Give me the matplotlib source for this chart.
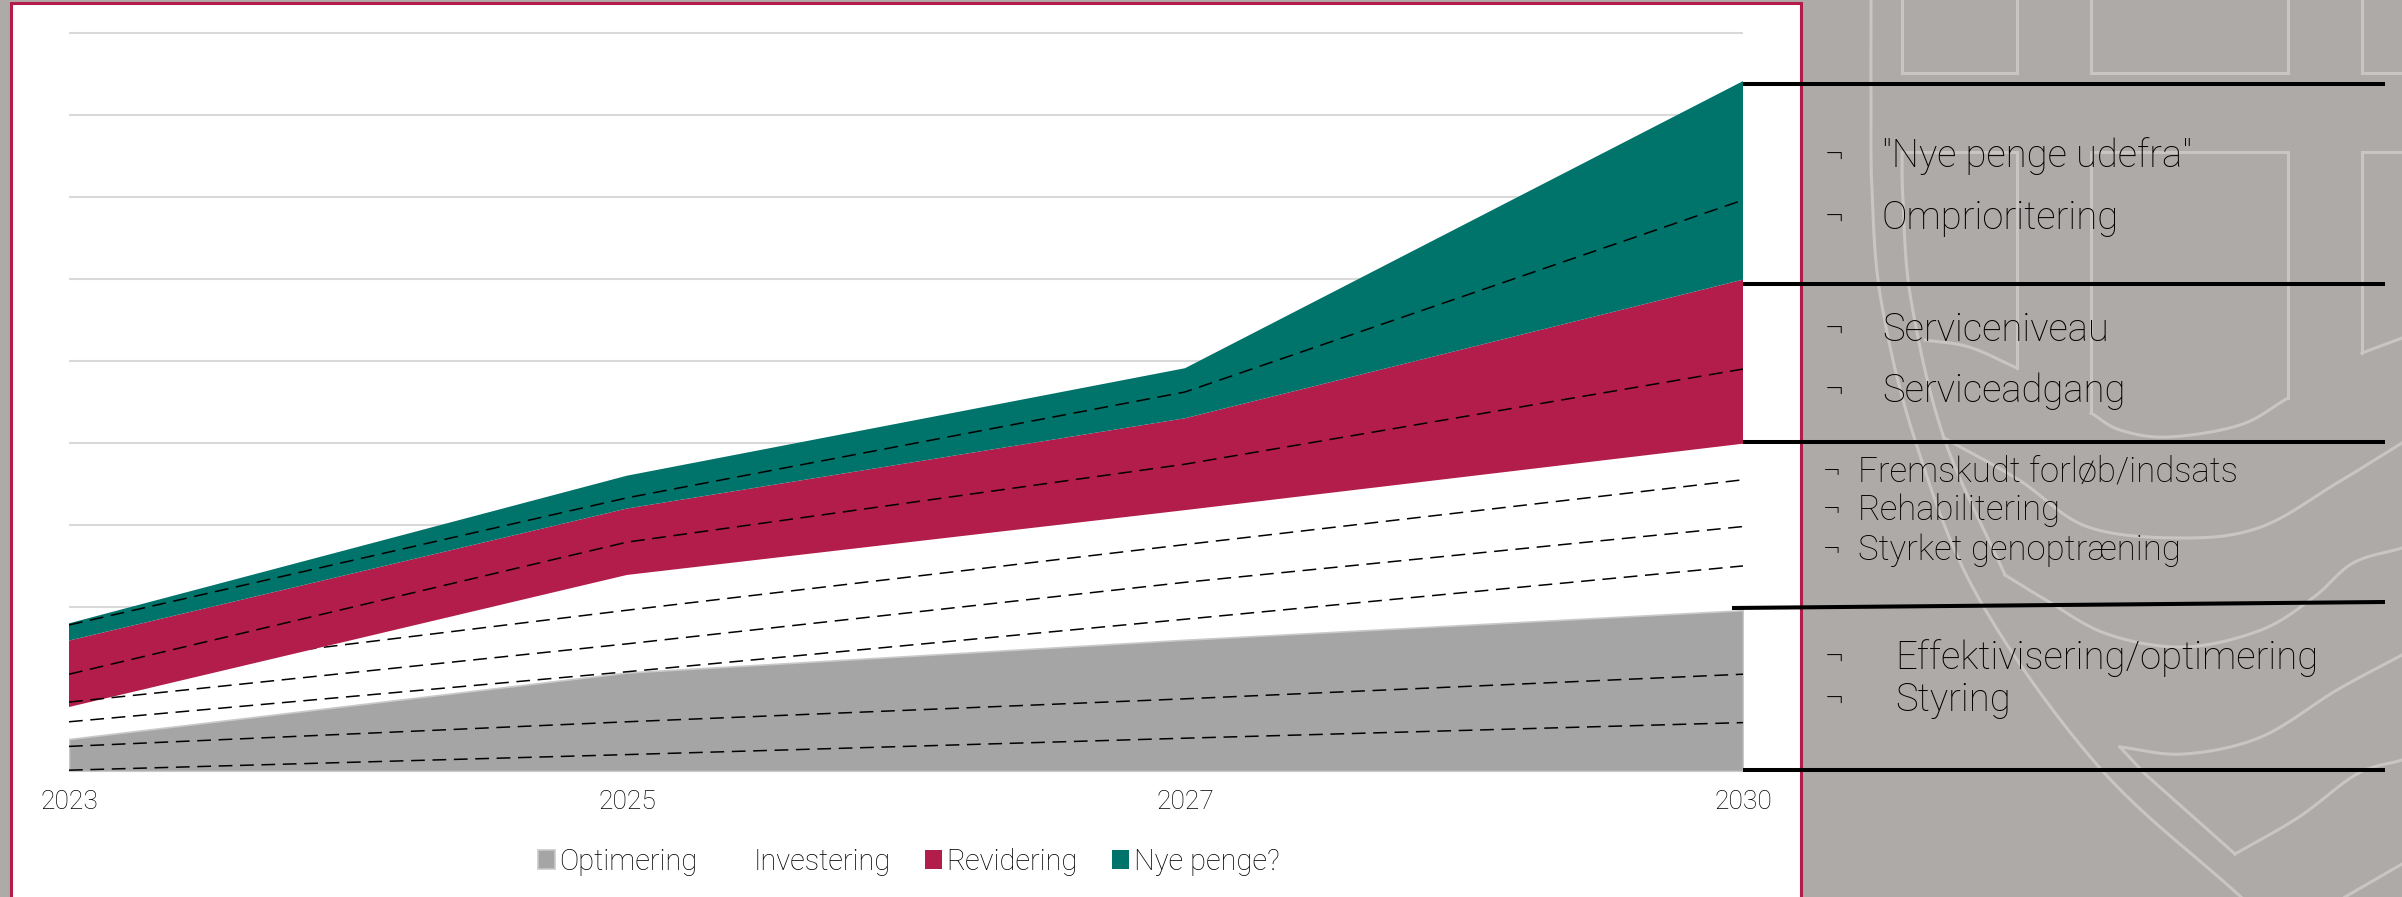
import numpy as np
import matplotlib
matplotlib.use('Agg')
import matplotlib.pyplot as plt
from matplotlib.patches import Rectangle

# area chart series, stacked from the bottom up
years = ['2023', '2025', '2027', '2030']
optimering = [0.39, 1.20, 1.60, 1.96]
investering = [0.39, 1.19, 1.58, 2.03]
revidering = [0.81, 0.81, 1.12, 2.00]
nye_penge = [0.21, 0.40, 0.61, 2.42]
series_names = ['Optimering', 'Investering', 'Revidering', 'Nye penge?']

# dashed sub-divisions across the bands
dash_1 = [0.01, 0.20, 0.40, 0.59]
dash_2 = [0.30, 0.60, 0.88, 1.18]
dash_3 = [0.60, 1.21, 1.85, 2.50]
dash_4 = [0.84, 1.55, 2.30, 2.98]
dash_hidden = [1.13, 1.96, 2.76, 3.55]
dash_6 = [1.18, 2.79, 3.74, 4.90]
dash_7 = [1.78, 3.33, 4.62, 6.96]

# side notes: label, baseline
notes_top = [('"Nye penge udefra"', 167), ('Omprioritering', 229),
             ('Serviceniveau', 341), ('Serviceadgang', 402)]
notes_mid = [('Fremskudt forløb/indsats', 482), ('Rehabilitering', 520),
             ('Styrket genoptræning', 560)]
notes_low = [('Effektivisering/optimering', 669), ('Styring', 711)]

FONT = 'Roboto'
BG = '#AEAAA8'
CRIMSON = '#B31D4B'
TEAL = '#00736A'
GRAY = '#A5A5A5'
GRID = '#D9D9D9'
MARK = '#C8C5C4'

W, H = 2402, 897

plt.rcParams['font.family'] = [FONT, 'DejaVu Sans']
plt.rcParams['font.weight'] = 'light'


def overlay(fig, z):
    """full-figure axes addressed in pixels, y pointing down"""
    a = fig.add_axes([0, 0, 1, 1], zorder=z)
    a.set_xlim(0, W)
    a.set_ylim(H, 0)
    a.axis('off')
    a.patch.set_alpha(0)
    return a


def smooth(points, n=16):
    """Catmull-Rom curve through the given points"""
    p = np.array(points, dtype=float)
    p = np.vstack([2 * p[0] - p[1], p, 2 * p[-1] - p[-2]])
    out = []
    for i in range(1, len(p) - 2):
        for t in np.linspace(0, 1, n, endpoint=False):
            out.append(0.5 * (2 * p[i] + (p[i + 1] - p[i - 1]) * t
                              + (2 * p[i - 1] - 5 * p[i] + 4 * p[i + 1] - p[i + 2]) * t ** 2
                              + (3 * p[i] - p[i - 1] - 3 * p[i + 1] + p[i + 2]) * t ** 3))
    out.append(p[-2])
    return np.array(out)


def draw_crest(a):
    """outline of the shield behind the side notes"""
    straight = [
        [(1902, 0), (1902, 73), (2017, 73), (2017, 0)],
        [(2091, 0), (2091, 73), (2288, 73), (2288, 0)],
        [(2402, 73), (2362, 73), (2362, 0)],
        [(1902, 152), (2017, 152), (2017, 368)],
        [(2091, 413), (2091, 152), (2288, 152), (2288, 398)],
        [(2402, 152), (2362, 152), (2362, 353)],
        [(2120, 747), (2145, 774), (2235, 854)],
    ]
    curved = [
        [(1871, 0), (1871, 100), (1872, 190), (1881, 300), (1915, 440), (1978, 597), (2099, 767), (2241, 897)],
        [(1902, 152), (1903, 200), (1911, 300), (1944, 438), (2005, 575)],
        [(2017, 368), (1969, 347), (1925, 340)],
        [(2288, 398), (2240, 425), (2168, 437), (2120, 430), (2091, 413)],
        [(2362, 353), (2402, 338)],
        [(1944, 438), (2019, 480), (2088, 527), (2184, 538), (2261, 527), (2337, 483), (2402, 443)],
        [(2005, 575), (2046, 600), (2107, 634), (2184, 647), (2261, 630), (2314, 597), (2353, 563), (2402, 548)],
        [(2120, 747), (2184, 754), (2261, 737), (2337, 690), (2402, 655)],
        [(2235, 854), (2299, 817), (2357, 774), (2402, 760)],
        [(2345, 897), (2402, 864)],
    ]
    for s in straight:
        xy = np.array(s)
        a.plot(xy[:, 0], xy[:, 1], color=MARK, lw=2.2, solid_joinstyle='miter')
    for c in curved:
        xy = smooth(c)
        a.plot(xy[:, 0], xy[:, 1], color=MARK, lw=2.2)


fig = plt.figure(figsize=(W / 100, H / 100), dpi=100, facecolor=BG)

back = overlay(fig, 0)
draw_crest(back)
back.add_patch(Rectangle((11, 3.5), 1790, 900, facecolor='white', edgecolor=CRIMSON, lw=2.2))

ax = fig.add_axes([69 / W, (H - 771) / H, 1674 / W, (771 - 32.7) / H], zorder=1)
ax.patch.set_alpha(0)

x = np.arange(len(years))
polys = ax.stackplot(x, optimering, investering, revidering, nye_penge,
                     colors=[GRAY, 'white', CRIMSON, TEAL], labels=series_names, lw=0)
polys[0].set_edgecolor('#C9C9C9')
polys[0].set_linewidth(1.2)
polys[1].set_zorder(1)
polys[0].set_zorder(2)
polys[2].set_zorder(2)
polys[3].set_zorder(2)

dash_style = (0, (9, 5))
# this one runs under the crimson band, the rest sit on top
ax.plot(x, dash_hidden, color='black', lw=1.1, ls=dash_style, zorder=1.5)
for d in [dash_1, dash_2, dash_3, dash_4, dash_6, dash_7]:
    ax.plot(x, d, color='black', lw=1.1, ls=dash_style, zorder=3)

ax.set_xlim(0, 3)
ax.set_ylim(0, 9)
ax.set_xticks(x, years)
ax.set_yticks(np.arange(10))
ax.tick_params(axis='x', length=0, pad=14, labelsize=19, labelcolor='black')
ax.tick_params(axis='y', length=0, labelleft=False)
ax.grid(axis='y', color=GRID, lw=1.5)
ax.set_axisbelow(True)
for g in ax.get_ygridlines():
    g.set_clip_on(False)
    g.set_solid_capstyle('butt')
for s in ['top', 'right', 'left']:
    ax.spines[s].set_visible(False)
ax.spines['bottom'].set_color(GRID)
ax.spines['bottom'].set_linewidth(1.5)
ax.spines['bottom'].set_zorder(1)
ax.spines['bottom'].set_capstyle('butt')

leg = ax.legend(loc='upper left', bbox_to_anchor=((538 - 69) / 1674, -0.104), ncols=4, frameon=False,
                fontsize=20.9, handlelength=0.6, handleheight=0.6, handletextpad=0.14,
                columnspacing=1.18, borderpad=0, borderaxespad=0, labelcolor='black')

front = overlay(fig, 2)
for y0, x0, x1, y1 in [(84, 1743, 2385, 84), (284, 1743, 2385, 284), (442, 1743, 2385, 442),
                       (608, 1732, 2385, 602), (770, 1743, 2385, 770)]:
    front.plot([x0, x1], [y0, y1], color='black', lw=2.9, solid_capstyle='butt')

for label, base in notes_top:
    front.text(1825, base, '¬', fontsize=27, va='baseline', color='black')
    front.text(1882, base, label, fontsize=27.5, va='baseline', color='black')
for label, base in notes_mid:
    front.text(1823, base, '¬', fontsize=25, va='baseline', color='black')
    front.text(1858, base, label, fontsize=25, va='baseline', color='black')
for label, base in notes_low:
    front.text(1825, base, '¬', fontsize=27, va='baseline', color='black')
    front.text(1895, base, label, fontsize=27.5, va='baseline', color='black')

fig.savefig('out.png', dpi=100, facecolor=BG)
